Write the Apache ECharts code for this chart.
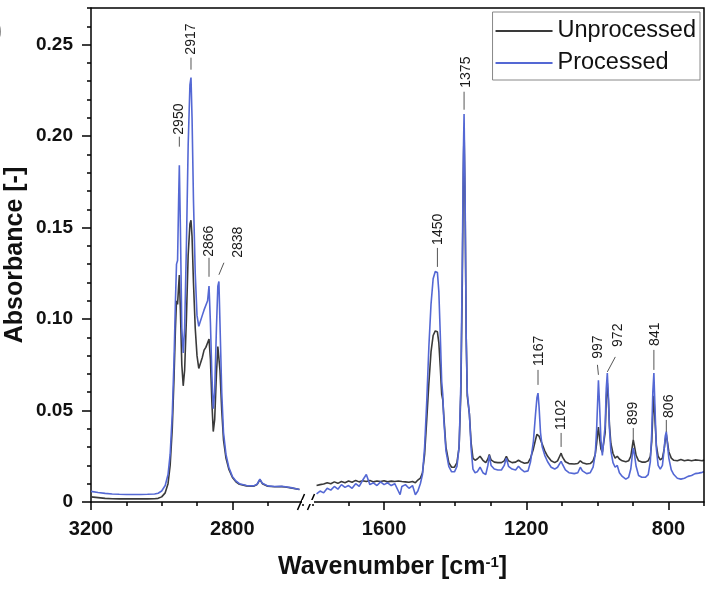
<!DOCTYPE html>
<html><head><meta charset="utf-8">
<script src="https://cdn.jsdelivr.net/npm/echarts@6/dist/echarts.min.js"></script>
<style>html,body{margin:0;padding:0;background:#fff}#c{width:710px;height:589px}</style>
</head><body><div id="c"></div>
<script>
// ---- data ----
const wnLeft = [3200,3180,3160,3140,3120,3100,3080,3060,3040,3020,3010,3000,2990,2982,2976,2970,2965,2961,2958,2955,2952,2950,2947,2943,2939,2935,2930,2925,2920,2917,2914,2910,2905,2900,2895,2890,2885,2880,2875,2870,2866,2862,2858,2854,2850,2845,2841,2838,2835,2830,2825,2818,2810,2800,2790,2780,2760,2740,2730,2722,2715,2700,2680,2660,2650,2630,2610];
const unprocLeft = [.0028,.0024,.0020,.0018,.0017,.0017,.0017,.0017,.0017,.0018,.0020,.0028,.0050,.0100,.0200,.0400,.0680,.0950,.1100,.1080,.1180,.1240,.1050,.0750,.0635,.0720,.1000,.1350,.1520,.1540,.1450,.1200,.0950,.0800,.0730,.0740,.0790,.0830,.0845,.0870,.0890,.0780,.0550,.0385,.0450,.0700,.0850,.0860,.0720,.0500,.0340,.0240,.0180,.0135,.0110,.0097,.0088,.0086,.0095,.0122,.0100,.0086,.0083,.0084,.0082,.0076,.0068];
const procLeft = [.0058,.0052,.0047,.0044,.0042,.0041,.0041,.0041,.0042,.0044,.0048,.0060,.0090,.0150,.0260,.0480,.0780,.1100,.1300,.1320,.1650,.1840,.1500,.0950,.0815,.0950,.1400,.1950,.2280,.2320,.2100,.1650,.1250,.1020,.0960,.0970,.1020,.1050,.1060,.1100,.1180,.0980,.0700,.0510,.0600,.0950,.1180,.1205,.0980,.0600,.0380,.0260,.0190,.0140,.0115,.0100,.0090,.0088,.0097,.0125,.0102,.0088,.0085,.0086,.0083,.0077,.0068];

const wnRight = [1790,1780,1770,1760,1750,1740,1730,1720,1710,1700,1690,1680,1670,1660,1650,1640,1630,1620,1610,1600,1590,1580,1570,1560,1555,1550,1540,1530,1520,1512,1505,1498,1492,1486,1480,1474,1468,1462,1456,1450,1446,1442,1438,1435,1432,1426,1418,1410,1402,1395,1389,1384,1380,1377,1375,1372,1369,1366,1363,1360,1355,1350,1344,1338,1330,1322,1314,1308,1304,1299,1290,1280,1270,1262,1256,1250,1240,1230,1222,1215,1205,1195,1188,1180,1174,1170,1167,1164,1160,1155,1148,1140,1130,1120,1112,1106,1102,1098,1090,1080,1065,1055,1048,1042,1030,1020,1012,1006,1002,999,997,994,990,986,982,978,975,972,969,966,962,956,950,944,938,930,920,912,906,902,899,896,891,884,875,865,857,851,847,844,841,838,834,829,823,817,812,809,806,803,799,792,785,775,765,755,745,735,725,715,705,700];
const unprocRight = [.0090,.0095,.0098,.0105,.0100,.0110,.0102,.0112,.0105,.0115,.0108,.0118,.0110,.0116,.0112,.0118,.0110,.0115,.0112,.0116,.0110,.0114,.0112,.0115,.0105,.0112,.0110,.0108,.0112,.0105,.0120,.0130,.0160,.0260,.0450,.0650,.0820,.0910,.0935,.0930,.0870,.0740,.0590,.0560,.0470,.0300,.0215,.0190,.0190,.0215,.0300,.0600,.1200,.1800,.2050,.1600,.0900,.0580,.0590,.0480,.0320,.0240,.0228,.0235,.0250,.0228,.0215,.0235,.0260,.0230,.0218,.0215,.0215,.0225,.0250,.0225,.0215,.0218,.0228,.0220,.0212,.0215,.0240,.0290,.0340,.0370,.0376,.0360,.0340,.0315,.0280,.0250,.0225,.0215,.0225,.0250,.0267,.0245,.0220,.0210,.0208,.0210,.0225,.0215,.0208,.0210,.0225,.0260,.0320,.0380,.0410,.0350,.0290,.0272,.0280,.0380,.0560,.0650,.0560,.0420,.0320,.0265,.0240,.0250,.0235,.0225,.0220,.0225,.0250,.0300,.0340,.0310,.0255,.0225,.0218,.0218,.0225,.0250,.0330,.0480,.0580,.0450,.0310,.0250,.0230,.0240,.0290,.0340,.0370,.0330,.0275,.0240,.0228,.0225,.0232,.0225,.0230,.0225,.0230,.0228,.0225,.0230];
const procRight = [.0045,.0060,.0050,.0075,.0065,.0085,.0070,.0095,.0080,.0090,.0075,.0100,.0085,.0120,.0150,.0095,.0105,.0090,.0110,.0095,.0105,.0090,.0100,.0060,.0040,.0085,.0095,.0075,.0090,.0040,.0060,.0100,.0150,.0300,.0550,.0850,.1080,.1220,.1260,.1255,.1150,.0920,.0660,.0590,.0450,.0280,.0195,.0165,.0165,.0195,.0300,.0650,.1300,.1900,.2120,.1650,.0900,.0600,.0610,.0480,.0290,.0180,.0160,.0165,.0190,.0160,.0150,.0200,.0255,.0200,.0180,.0175,.0175,.0200,.0240,.0195,.0180,.0175,.0195,.0180,.0165,.0170,.0220,.0330,.0480,.0570,.0595,.0520,.0380,.0300,.0255,.0220,.0190,.0180,.0190,.0210,.0222,.0205,.0175,.0160,.0155,.0160,.0190,.0170,.0155,.0160,.0190,.0260,.0400,.0560,.0665,.0540,.0340,.0255,.0260,.0420,.0620,.0705,.0580,.0400,.0280,.0215,.0190,.0200,.0160,.0140,.0125,.0135,.0180,.0250,.0295,.0265,.0195,.0145,.0135,.0135,.0150,.0220,.0380,.0600,.0705,.0520,.0290,.0200,.0180,.0200,.0290,.0360,.0385,.0320,.0240,.0175,.0150,.0130,.0125,.0130,.0140,.0145,.0155,.0158,.0162,.0165];

const peakWn = [2950,2917,2866,2838,1450,1375,1167,1102,997,972,899,841,806];
const peakLabelY = [0.1942,0.2363,0.1231,0.1242,0.1285,0.2144,0.0640,0.0301,0.0695,0.0711,0.0339,0.0722,0.0383];

const xTicksLeft = [3200, 2800];
const xTicksRight = [1600, 1200, 800];
const yTicks = [0, 0.05, 0.10, 0.15, 0.20, 0.25];
const seriesNames = ['Unprocessed', 'Processed'];

// ---- layout / style ----
// [leader length px, leader dx px, text dx px, gap px]
const annLayout = [[10,0,0,2],[12,0,0,3],[19,0,0,1],[12,5,19,5],[19,0,1,3],[18,0,2,4],[15,0,1,4],[14,0,0,3],[10,-1,0,6],[15,8,11,10],[12,0,0,3],[20,0,1,4],[12,0,3,2]];
const FONT = '"Liberation Sans", Arial, Helvetica, sans-serif';
const GRAY = '#3a3a3a', BLUE = '#5468d4';

const zip = (xs, ys) => xs.map((x, i) => [x, ys[i]]);
const annData = (lo, hi) => peakWn.map((w, i) => [w, peakLabelY[i], i]).filter(d => d[0] >= lo && d[0] <= hi);

function renderAnn(params, api) {
  const idx = api.value(2);
  const [len, dx, tx, gap] = annLayout[idx];
  const p = api.coord([api.value(0), api.value(1)]);
  return {type: 'group', children: [
    {type: 'line', shape: {x1: p[0], y1: p[1], x2: p[0] + dx, y2: p[1] - len}, style: {stroke: '#555', lineWidth: 1}},
    {type: 'text', x: p[0] + tx, y: p[1] - len - gap, rotation: Math.PI / 2,
      style: {text: String(peakWn[idx]), fontSize: 14, fontFamily: FONT, fill: '#1a1a1a', align: 'left', verticalAlign: 'middle'}}
  ]};
}

const lineSeries = (name, x, y, data, color, z) => ({
  name, type: 'line', xAxisIndex: x, yAxisIndex: y, data, symbol: 'none', showSymbol: false,
  lineStyle: {color, width: 1.6}, itemStyle: {color}, z, emphasis: {disabled: true}, clip: true
});

const majorX = (gi, min, max, ticks) => ({
  type: 'value', gridIndex: gi, min, max, inverse: true, position: 'bottom',
  axisLine: {show: true, onZero: false, lineStyle: {color: '#000', width: 1.5}},
  axisTick: {show: true, customValues: ticks, length: 8, lineStyle: {color: '#000', width: 1.5}},
  axisLabel: {show: true, customValues: ticks, margin: 17, fontSize: 20, fontWeight: 'bold', color: '#111', fontFamily: FONT,
    formatter: v => String(v)},
  splitLine: {show: false}
});
const minorX = (gi, min, max) => ({
  type: 'value', gridIndex: gi, min, max, inverse: true, interval: 100, position: 'bottom',
  axisLine: {show: false, onZero: false}, axisTick: {show: true, length: 4, lineStyle: {color: '#000', width: 1.5}},
  axisLabel: {show: false}, splitLine: {show: false}
});

const chart = echarts.init(document.getElementById('c'));
chart.setOption({
  animation: false,
  backgroundColor: '#fff',
  title: {
    text: 'Wavenumber [cm{sup|-1}]', left: 278, top: 555, padding: 0,
    textStyle: {fontSize: 25, fontWeight: 'bold', color: '#111', fontFamily: FONT,
      rich: {sup: {fontSize: 15, fontWeight: 'bold', color: '#111', fontFamily: FONT, verticalAlign: 'top'}}}
  },
  legend: {
    data: seriesNames, orient: 'vertical', right: 10, top: 12, icon: 'rect', itemWidth: 57, itemHeight: 2, itemGap: 8,
    textStyle: {fontSize: 23.5, color: '#111', fontFamily: FONT}, borderColor: '#888', borderWidth: 1,
    padding: [7, 4, 5, 3], backgroundColor: '#fff', selectedMode: false
  },
  grid: [
    {left: 91, top: 8, width: 212, bottom: 87},
    {left: 313, top: 8, right: 6, bottom: 87}
  ],
  xAxis: [
    majorX(0, 2600, 3200, xTicksLeft),
    majorX(1, 700, 1800, xTicksRight),
    minorX(0, 2600, 3200),
    minorX(1, 700, 1800)
  ],
  yAxis: [
    {type: 'value', gridIndex: 0, min: 0, max: 0.27, position: 'left',
      axisLine: {show: true, lineStyle: {color: '#000', width: 1.5}},
      axisTick: {show: true, customValues: yTicks, length: 9, lineStyle: {color: '#000', width: 1.5}},
      axisLabel: {show: true, customValues: yTicks, margin: 18, fontSize: 19, fontWeight: 'bold', color: '#111', fontFamily: FONT,
        formatter: v => v === 0 ? '0' : v.toFixed(2)},
      splitLine: {show: false},
      name: 'Absorbance [-]', nameLocation: 'middle', nameGap: 63,
      nameTextStyle: {fontSize: 25, fontWeight: 'bold', color: '#111', fontFamily: FONT}},
    {type: 'value', gridIndex: 1, min: 0, max: 0.27, show: false},
    {type: 'value', gridIndex: 0, min: 0, max: 0.27, interval: 0.01, position: 'left', offset: 0,
      axisLine: {show: false}, axisTick: {show: true, length: 4, lineStyle: {color: '#000', width: 1.5}},
      axisLabel: {show: false}, splitLine: {show: false}}
  ],
  series: [
    lineSeries(seriesNames[0], 0, 0, zip(wnLeft, unprocLeft), GRAY, 2),
    lineSeries(seriesNames[1], 0, 0, zip(wnLeft, procLeft), BLUE, 3),
    lineSeries(seriesNames[0], 1, 1, zip(wnRight, unprocRight), GRAY, 2),
    lineSeries(seriesNames[1], 1, 1, zip(wnRight, procRight), BLUE, 3),
    {type: 'custom', xAxisIndex: 0, yAxisIndex: 0, data: annData(2600, 3200), renderItem: renderAnn, z: 5, silent: true},
    {type: 'custom', xAxisIndex: 1, yAxisIndex: 1, data: annData(700, 1800), renderItem: renderAnn, z: 5, silent: true}
  ]
});

// frame (top + right) and axis-break marks, placed from the axes' pixel positions
const pL = chart.convertToPixel({xAxisIndex: 0, yAxisIndex: 0}, [3200, 0.27]);
const pBreakL = chart.convertToPixel({xAxisIndex: 0, yAxisIndex: 0}, [2600, 0]);
const pR = chart.convertToPixel({xAxisIndex: 1, yAxisIndex: 1}, [700, 0]);
const pBreakR = chart.convertToPixel({xAxisIndex: 1, yAxisIndex: 1}, [1800, 0]);
const slash = (cx, cy) => ({type: 'line', shape: {x1: cx - 3.5, y1: cy + 8, x2: cx + 3.5, y2: cy - 8}, style: {stroke: '#000', lineWidth: 1.5}});
chart.setOption({
  graphic: [
    {type: 'polyline', shape: {points: [[pL[0], pL[1]], [pR[0], pL[1]], [pR[0], pR[1]]]}, style: {stroke: '#000', lineWidth: 1.5, fill: null}, z: 10},
    {type: 'rect', shape: {x: pBreakL[0] - 1, y: pBreakL[1] - 2, width: pBreakR[0] - pBreakL[0] + 2, height: 4}, style: {fill: '#fff'}, z: 10},
    slash(pBreakL[0] - 2, pBreakL[1]),
    slash(pBreakR[0] - 2, pBreakR[1]),
    {type: 'text', x: -5, y: 20, style: {text: ')', fontSize: 22, fill: '#888', fontFamily: FONT}, z: 10}
  ]
});
</script></body></html>
